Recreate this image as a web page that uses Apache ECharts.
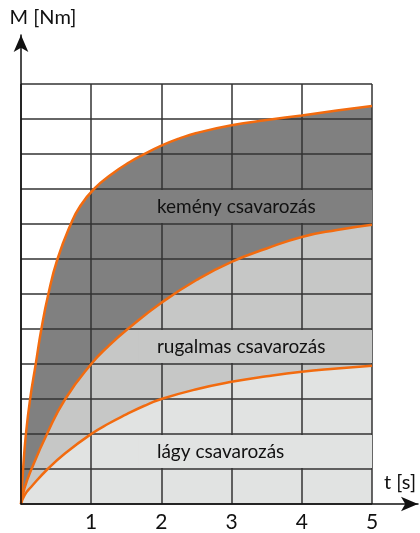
<!DOCTYPE html>
<html>
<head>
<meta charset="utf-8">
<style>
    html, body { margin: 0; padding: 0; background: #fff; }
    #chart { width: 420px; height: 533px; }
</style>
<script src="https://cdn.jsdelivr.net/npm/echarts@6/dist/echarts.min.js"></script>
</head>
<body>
<div id="chart"></div>
<script>
// curves: t [s] and M [Nm]
const hardT = [0, 0.03, 0.07, 0.13, 0.21, 0.29, 0.39, 0.52, 0.71, 0.84, 1.04, 1.31, 1.55, 1.74, 2, 2.25, 2.5, 3, 3.5, 4, 4.5, 5];
const hardM = [0, 1, 2, 3, 4, 5, 6, 7, 8, 8.5, 9, 9.45, 9.77, 9.98, 10.24, 10.44, 10.6, 10.82, 10.97, 11.1, 11.24, 11.37];
const elasticT = [0, 0.05, 0.15, 0.37, 0.63, 1, 1.25, 1.52, 2, 2.5, 3, 3.5, 4, 4.5, 5];
const elasticM = [0, 0.45, 1, 2, 3, 4, 4.52, 5, 5.75, 6.4, 6.92, 7.3, 7.63, 7.83, 7.98];
const softT = [0, 0.05, 0.15, 0.38, 0.63, 1, 1.25, 1.5, 1.75, 2, 2.5, 3, 3.5, 4, 4.5, 5];
const softM = [0, 0.25, 0.5, 1, 1.45, 2, 2.3, 2.56, 2.8, 3, 3.28, 3.49, 3.65, 3.78, 3.87, 3.95];

// label bands
const bandNames = ['kemény csavarozás', 'rugalmas csavarozás', 'lágy csavarozás'];
const bandLow = [8, 4, 1];
const bandHigh = [9, 5, 2];

const xTicks = ['', '1', '2', '3', '4', '5'];

const FONT = 'Lato, "Open Sans", sans-serif';
const ORANGE = '#f26b0f';
const fills = ['#808080', '#c6c7c6', '#e1e3e2'];
const BAND_START = 1.68;

const pairs = (t, m) => t.map((v, i) => [v, m[i]]);
const curves = [pairs(hardT, hardM), pairs(elasticT, elasticM), pairs(softT, softM)];

const chart = echarts.init(document.getElementById('chart'));

const areaSeries = curves.map((d, i) => ({
    type: 'line',
    data: d,
    smooth: 0.5,
    showSymbol: false,
    lineStyle: { width: 0 },
    areaStyle: { color: fills[i], opacity: 1 },
    z: 1,
    silent: true
}));

const lineSeries = curves.map(d => ({
    type: 'line',
    data: d,
    smooth: 0.5,
    showSymbol: false,
    lineStyle: { color: ORANGE, width: 2.5 },
    z: 4,
    silent: true
}));

chart.setOption({
    animation: false,
    grid: [
        { left: 21, right: 48, top: 84, bottom: 29 },
        { left: 21, right: 2, top: 35, bottom: 29 }
    ],
    xAxis: [
        {
            gridIndex: 0, type: 'value', min: 0, max: 5, interval: 1, z: 2,
            axisLine: { show: false },
            axisTick: { show: false },
            axisLabel: {
                formatter: v => xTicks[v] || '',
                color: '#111', fontFamily: FONT, fontSize: 21, margin: 8
            },
            splitLine: { lineStyle: { color: '#333', width: 1.5 } }
        },
        {
            gridIndex: 1, type: 'value', min: 0, max: 5.655, z: 5,
            axisLine: {
                lineStyle: { color: '#111', width: 1.5 },
                symbol: ['none', 'arrow'], symbolSize: [11, 17]
            },
            axisTick: { show: false },
            axisLabel: { show: false },
            splitLine: { show: false },
            name: 't [s]',
            nameLocation: 'end',
            nameGap: -2,
            nameTextStyle: {
                color: '#111', fontFamily: FONT, fontSize: 20,
                align: 'right', verticalAlign: 'bottom', padding: [0, 0, 11, 0]
            }
        }
    ],
    yAxis: [
        {
            gridIndex: 0, type: 'value', min: 0, max: 12, interval: 1, z: 2,
            axisLine: { show: false },
            axisTick: { show: false },
            axisLabel: { show: false },
            splitLine: { lineStyle: { color: '#333', width: 1.5 } }
        },
        {
            gridIndex: 1, type: 'value', min: 0, max: 13.4, z: 5,
            axisLine: {
                lineStyle: { color: '#111', width: 1.5 },
                symbol: ['none', 'arrow'], symbolSize: [11, 17]
            },
            axisTick: { show: false },
            axisLabel: { show: false },
            splitLine: { show: false },
            name: 'M [Nm]',
            nameLocation: 'end',
            nameGap: 17,
            nameTextStyle: {
                color: '#111', fontFamily: FONT, fontSize: 20,
                align: 'center', verticalAlign: 'middle', padding: [0, 0, 0, 44]
            }
        }
    ],
    series: [
        ...areaSeries,
        {
            type: 'custom',
            z: 3,
            silent: true,
            clip: false,
            data: bandNames.map((n, i) => [bandLow[i], bandHigh[i], i]),
            encode: { y: [0, 1] },
            renderItem: (params, api) => {
                const i = api.value(2);
                const p0 = api.coord([BAND_START, api.value(1)]);
                const p1 = api.coord([5, api.value(0)]);
                return {
                    type: 'group',
                    children: [
                        {
                            type: 'rect',
                            shape: { x: p0[0], y: p0[1] + 1, width: p1[0] - p0[0], height: p1[1] - p0[1] - 2 },
                            style: { fill: fills[i] }
                        },
                        {
                            type: 'text',
                            style: {
                                x: p0[0] + 18, y: (p0[1] + p1[1]) / 2,
                                text: bandNames[i],
                                fill: '#111',
                                font: '19px ' + FONT,
                                verticalAlign: 'middle'
                            }
                        }
                    ]
                };
            }
        },
        ...lineSeries
    ]
});
</script>
</body>
</html>
